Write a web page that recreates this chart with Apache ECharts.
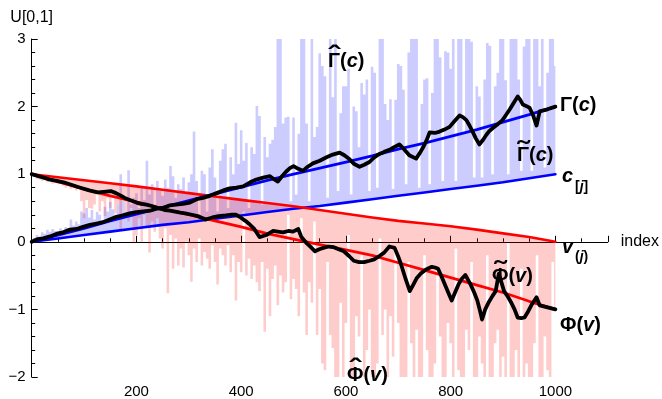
<!DOCTYPE html>
<html>
<head>
<meta charset="utf-8">
<script src="https://cdn.jsdelivr.net/npm/echarts@6/dist/echarts.min.js"></script>
<style>
  html, body { margin: 0; padding: 0; background: #ffffff; }
  #chart { width: 662px; height: 399px; }
</style>
</head>
<body>
<div id="chart"></div>
<script>
// Order statistics of U[0,1] samples and the derived estimators, plotted against index.

// Indices at which the smooth curves are listed
const curveIdx = [0, 50, 100, 150, 200, 250, 300, 350, 400, 450, 500,
                  550, 600, 650, 700, 750, 800, 850, 900, 950, 1000];

// c_[j]: ascending order statistics
const cSorted = [0, 0.05, 0.10, 0.15, 0.20, 0.25, 0.29, 0.34, 0.39, 0.44, 0.49,
                 0.53, 0.58, 0.63, 0.68, 0.73, 0.78, 0.83, 0.88, 0.94, 1.0];
// v_(j): descending order statistics
const vSorted = [1.0, 0.955, 0.91, 0.865, 0.82, 0.77, 0.72, 0.67, 0.62, 0.575, 0.525,
                 0.47, 0.415, 0.36, 0.31, 0.27, 0.23, 0.18, 0.125, 0.07, 0.0];
// Γ(c) and Φ(v)
const gammaC = [0, 0.10, 0.20, 0.31, 0.41, 0.51, 0.61, 0.71, 0.81, 0.91, 1.00,
                1.09, 1.18, 1.27, 1.37, 1.46, 1.56, 1.66, 1.77, 1.88, 2.0];
const phiV = [1.0, 0.89, 0.78, 0.68, 0.59, 0.49, 0.40, 0.31, 0.22, 0.12, 0.04,
              -0.04, -0.12, -0.20, -0.31, -0.42, -0.53, -0.64, -0.75, -0.88, -1.0];

// Noisy estimators Γ̂(c) and Φ̂(v), one value every STEP indices (0 … 1000)
const STEP = 5;
const gammaHat = [
  0.02, 0.06, 0.10, 0.08, 0.14, 0.12, 0.18, 0.15, 0.19, 0.16,
  0.14, 0.20, 0.17, 0.22, 0.18, 0.33, 0.24, 0.30, 0.26, 0.45,
  0.42, 0.50, 0.36, 0.47, 0.33, 0.44, 0.40, 0.30, 0.52, 0.45,
  0.59, 0.48, 0.40, 0.55, 1.00, 0.60, 0.45, 1.06, 0.55, 0.65,
  0.72, 0.50, 0.80, 0.62, 1.20, 0.70, 0.85, 0.55, 0.90, 0.75,
  0.68, 0.92, 0.80, 1.12, 0.97, 0.65, 0.85, 0.78, 0.95, 0.72,
  0.88, 1.00, 1.63, 0.90, 0.40, 1.05, 1.00, 0.45, 1.10, 1.37,
  0.95, 0.45, 1.20, 1.37, 1.45, 0.50, 1.25, 1.00, 1.76, 1.15,
  1.65, 1.20, 1.46, 0.50, 1.40, 1.30, 2.01, 1.86, 0.55, 1.55,
  1.25, 1.45, 1.51, 1.70, 3.20, 3.20, 1.75, 1.84, 1.85, 0.60,
  1.84, 0.70, 1.60, 3.20, 3.20, 1.75, 0.60, 3.20, 1.55, 1.70,
  2.79, 2.60, 2.45, 0.65, 3.20, 2.14, 3.20, 0.75, 1.90, 2.30,
  2.30, 2.56, 0.70, 2.00, 1.93, 1.40, 2.35, 2.18, 2.40, 0.75,
  2.59, 2.50, 0.80, 3.20, 3.20, 2.04, 1.80, 2.11, 0.78, 2.10,
  2.63, 2.60, 2.25, 0.85, 2.80, 3.20, 3.20, 3.20, 0.80, 2.04,
  2.40, 2.42, 0.85, 2.20, 3.20, 3.20, 2.73, 0.90, 2.82, 2.80,
  2.56, 3.20, 0.90, 3.20, 3.20, 1.60, 3.20, 3.20, 2.96, 0.95,
  2.30, 2.15, 0.95, 2.40, 2.94, 2.90, 1.00, 2.30, 2.50, 3.20,
  3.20, 2.39, 1.00, 3.20, 3.20, 3.20, 2.40, 1.05, 2.89, 3.20,
  3.20, 1.05, 3.20, 3.20, 2.30, 3.20, 1.10, 2.50, 3.20, 3.20,
  2.60
];
const phiHat = [
  0.98, 0.96, 0.93, 0.92, 0.90, 0.93, 0.88, 0.90, 0.86, 0.88,
  0.85, 0.87, 0.83, 0.80, 0.84, 0.78, 0.82, 0.76, 0.80, 0.60,
  0.35, 0.62, 0.50, 0.49, 0.55, 0.70, 0.45, 0.60, 0.38, 0.65,
  0.50, 0.68, 0.42, 0.55, 0.16, 0.60, 0.45, 0.30, 0.50, -0.02,
  0.10, 0.35, 0.00, 0.40, 0.20, -0.16, 0.30, 0.15, 0.35, 0.05,
  -0.10, 0.20, -0.76, 0.10, -0.40, 0.05, -0.35, -0.10, -0.38, 0.00,
  -0.20, -0.59, -0.10, -0.30, 0.05, -0.35, -0.15, -0.25, -0.40, -0.05,
  -0.30, -0.63, -0.10, -0.20, -0.35, -0.05, -0.45, -0.20, -0.87, -0.30,
  -0.45, 0.45, -0.50, -0.25, -0.55, -0.35, -0.60, -0.73, -0.30, -1.33,
  -0.40, -1.10, -0.55, -0.35, -0.94, -0.50, -0.75, -0.60, 0.40, -0.85,
  -0.55, -0.70, -1.10, 0.35, -0.75, -1.38, -0.60, -0.90, 0.30, -1.38,
  -0.70, -1.80, -1.90, -0.30, -1.38, -1.57, -2.20, -2.20, -0.90, -2.20,
  -1.20, 0.10, -2.20, -2.20, -1.10, -1.40, -0.20, -2.20, -1.60, -1.00,
  -2.20, -2.20, -1.80, 0.05, -1.38, -1.00, -2.20, -1.10, -1.70, -0.10,
  -1.20, -2.00, -2.20, -2.20, -0.30, -1.50, -2.20, -1.30, -2.20, -2.20,
  -0.20, -1.60, -2.20, -2.20, -1.80, -0.40, -1.40, -2.20, -2.20, -1.20,
  -1.50, -2.20, -0.10, -1.90, -2.20, -2.20, -1.30, -1.60, -0.30, -2.20,
  -2.20, -1.40, -1.80, -2.20, -0.20, -2.20, -2.20, -1.50, -1.30, -2.20,
  -1.70, -2.20, 0.00, -2.20, -2.20, -1.60, -2.20, -0.40, -2.20, -1.80,
  -2.20, -2.20, -1.50, -0.20, -2.20, -2.20, -1.40, -1.90, -2.20, -0.30,
  -1.00
];

// Smoothed estimators Γ̃(c) and Φ̃(v) as [index, value]
const gammaTilde = [
  [0, 0], [12, 0.04], [22, 0.05], [35, 0.08], [48, 0.12], [60, 0.14], [73, 0.18],
  [86, 0.19], [98, 0.22], [111, 0.25], [124, 0.27], [136, 0.29], [149, 0.33],
  [162, 0.37], [174, 0.39], [187, 0.42], [200, 0.44], [213, 0.45], [226, 0.46],
  [238, 0.49], [251, 0.50], [264, 0.54], [276, 0.55], [289, 0.56], [302, 0.58],
  [315, 0.63], [327, 0.65], [340, 0.68], [353, 0.72], [366, 0.76], [378, 0.79],
  [391, 0.80], [404, 0.82], [417, 0.88], [429, 0.92], [442, 0.95], [455, 0.97],
  [462, 0.93], [470, 0.89], [478, 0.97], [486, 1.04], [493, 1.09], [500, 1.12],
  [509, 1.08], [518, 1.05], [527, 1.11], [537, 1.16], [550, 1.20], [563, 1.25],
  [575, 1.29], [588, 1.32], [597, 1.28], [607, 1.22], [616, 1.15], [626, 1.11],
  [635, 1.14], [645, 1.18], [654, 1.25], [664, 1.30], [673, 1.33], [683, 1.36],
  [692, 1.40], [702, 1.44], [711, 1.37], [721, 1.28], [734, 1.23], [740, 1.30],
  [747, 1.39], [754, 1.50], [760, 1.62], [770, 1.61], [779, 1.63], [788, 1.66],
  [798, 1.70], [808, 1.79], [817, 1.87], [824, 1.84], [830, 1.80], [836, 1.72],
  [842, 1.63], [848, 1.53], [855, 1.44], [862, 1.51], [868, 1.58], [874, 1.64],
  [880, 1.68], [890, 1.74], [899, 1.80], [906, 1.88], [913, 1.96], [920, 2.05],
  [928, 2.15], [933, 2.10], [938, 2.03], [944, 2.01], [951, 1.98], [958, 1.86],
  [964, 1.72], [970, 1.93], [985, 1.96], [1000, 2.0]
];
const phiTilde = [
  [0, 1.0], [18, 0.96], [35, 0.92], [48, 0.90], [61, 0.88], [77, 0.84], [93, 0.80],
  [110, 0.76], [126, 0.73], [138, 0.74], [151, 0.75], [161, 0.72], [171, 0.68],
  [180, 0.64], [190, 0.61], [200, 0.58], [209, 0.56], [219, 0.55], [229, 0.53],
  [241, 0.50], [254, 0.47], [264, 0.46], [274, 0.445], [284, 0.43], [293, 0.42],
  [306, 0.40], [319, 0.375], [332, 0.33], [345, 0.36], [357, 0.38], [370, 0.39],
  [380, 0.40], [390, 0.40], [399, 0.36], [408, 0.31], [416, 0.26], [425, 0.19],
  [435, 0.07], [448, 0.10], [461, 0.16], [470, 0.15], [480, 0.14], [490, 0.16],
  [499, 0.15], [509, 0.19], [515, 0.07], [525, -0.02], [533, -0.08], [541, -0.14],
  [549, -0.11], [557, -0.09], [567, -0.07], [577, -0.08], [586, -0.11], [596, -0.14],
  [606, -0.21], [615, -0.28], [625, -0.30], [635, -0.30], [645, -0.28], [654, -0.26],
  [664, -0.21], [673, -0.16], [683, -0.07], [693, -0.09], [700, -0.22], [706, -0.35],
  [714, -0.55], [722, -0.73], [729, -0.63], [735, -0.54], [743, -0.47], [751, -0.42],
  [758, -0.39], [764, -0.37], [770, -0.38], [776, -0.40], [783, -0.52], [789, -0.63],
  [796, -0.76], [802, -0.87], [809, -0.74], [815, -0.63], [821, -0.55], [828, -0.49],
  [833, -0.56], [838, -0.63], [845, -0.75], [851, -0.87], [856, -1.02], [860, -1.15],
  [866, -1.00], [873, -0.89], [880, -0.80], [886, -0.73], [889, -0.60], [892, -0.47],
  [897, -0.60], [902, -0.73], [909, -0.81], [915, -0.89], [922, -1.00], [928, -1.12],
  [935, -1.13], [941, -1.12], [948, -1.03], [954, -0.94], [959, -0.88], [964, -0.82],
  [970, -0.94], [985, -0.97], [1000, -1.0]
];

const FONT = '"Liberation Sans", Arial, sans-serif';
const BLUE = '#0000ff';
const RED = '#ff0000';

function pairs(idx, vals) { return idx.map((x, i) => [x, vals[i]]); }

// Filled band between a noisy estimator (drawn as short steps) and a reference curve
function band(name, tops, baseVals, fill) {
  return {
    type: 'custom',
    name: name,
    clip: true,
    z: 1,
    silent: true,
    data: tops.map((v, i) => [i * STEP, v]),
    encode: { x: 0, y: 1 },
    renderItem: function (params, api) {
      if (params.dataIndex !== 0) return null;
      const pts = [];
      tops.forEach(function (v, i) {
        const x0 = Math.max(0, i * STEP - STEP / 2);
        const x1 = Math.min(1000, i * STEP + STEP / 2);
        pts.push(api.coord([x0, v]), api.coord([x1, v]));
      });
      for (let j = curveIdx.length - 1; j >= 0; j--) {
        pts.push(api.coord([curveIdx[j], baseVals[j]]));
      }
      return { type: 'polygon', shape: { points: pts }, style: { fill: fill } };
    }
  };
}

function curve(name, data, color, width, z) {
  return {
    type: 'line', name: name, data: data, showSymbol: false, symbol: 'none',
    lineStyle: { color: color, width: width, join: 'round', cap: 'round' },
    z: z, silent: true
  };
}

// Text labels placed next to each curve
const bold = { fontFamily: FONT, fontWeight: 'bold', fontSize: 20, fill: '#000' };
const boldItalic = Object.assign({}, bold, { fontStyle: 'italic' });
const subUp = Object.assign({}, bold, { fontSize: 14 });
const subIt = Object.assign({}, subUp, { fontStyle: 'italic' });
const richStyles = { g: bold, p: bold, i: boldItalic, s: subUp, j: subIt };

const HAT = '\u02C6';
const TILDE = '\u02DC';
// [x, y, text, accent, accent x offset, accent y]
const labelSpecs = [
  [328, 61, '{g|\u0393}{p|(}{i|c}{p|)}', HAT, 6, 57],
  [560, 105, '{g|\u0393}{p|(}{i|c}{p|)}', null],
  [517, 155, '{g|\u0393}{p|(}{i|c}{p|)}', TILDE, 6, 152],
  [562, 176, '{i|c}', null],
  [575, 187, '{s|[}{j|j}{s|]}', null],
  [562, 247, '{i|v}', null],
  [575, 257, '{s|(}{j|j}{s|)}', null],
  [492, 276, '{g|\u03A6}{p|(}{i|v}{p|)}', TILDE, 8, 272],
  [560, 325, '{g|\u03A6}{p|(}{i|v}{p|)}', null],
  [347, 375, '{g|\u03A6}{p|(}{i|v}{p|)}', HAT, 8, 370]
];

const graphics = [];
labelSpecs.forEach(function (s) {
  graphics.push({
    type: 'text', x: s[0], y: s[1], z: 100, silent: true,
    style: { text: s[2], rich: richStyles, align: 'left', verticalAlign: 'middle', fill: '#000' }
  });
  if (s[3]) {
    graphics.push({
      type: 'text', x: s[0] + s[4], y: s[5], z: 100, silent: true,
      scaleX: 1.35, originX: 0, originY: 0,
      style: { text: s[3], font: 'bold 26px ' + FONT, align: 'center', verticalAlign: 'middle', fill: '#000' }
    });
  }
});

const chart = echarts.init(document.getElementById('chart'), null, { renderer: 'canvas' });

chart.setOption({
  animation: false,
  backgroundColor: '#ffffff',
  grid: { left: 31.7, top: 39, width: 576.7, height: 354, containLabel: false },
  xAxis: [
    {
      type: 'value', min: 0, max: 1100, interval: 50,
      axisLine: { show: true, onZero: true, lineStyle: { color: '#000', width: 1 } },
      axisTick: { show: true, inside: true, length: 3.5, lineStyle: { color: '#000', width: 1 } },
      axisLabel: {
        interval: 0, margin: 7, color: '#000', fontSize: 15, fontFamily: FONT,
        formatter: function (v) { return (v > 0 && v <= 1000 && v % 200 === 0) ? String(v) : ''; }
      },
      splitLine: { show: false },
      name: 'index', nameLocation: 'end', nameGap: 13,
      nameTextStyle: { color: '#000', fontSize: 16, fontFamily: FONT }
    },
    {
      type: 'value', min: 0, max: 1100, interval: 200, position: 'bottom',
      axisLine: { show: false, onZero: true, onZeroAxisIndex: 0 },
      axisTick: { show: true, inside: true, length: 6, lineStyle: { color: '#000', width: 1 } },
      axisLabel: { show: false },
      splitLine: { show: false }
    }
  ],
  yAxis: {
    type: 'value', min: -2, max: 3, interval: 1,
    axisLine: { show: true, onZero: false, lineStyle: { color: '#000', width: 1 } },
    axisTick: { show: true, inside: true, length: 6, lineStyle: { color: '#000', width: 1 } },
    minorTick: { show: true, splitNumber: 5, length: 3.5, lineStyle: { color: '#000', width: 1 } },
    axisLabel: {
      margin: 6, color: '#000', fontSize: 15, fontFamily: FONT,
      formatter: function (v) { return String(v).replace('-', '\u2212'); }
    },
    splitLine: { show: false },
    minorSplitLine: { show: false },
    name: 'U[0,1]', nameLocation: 'end', nameGap: 13,
    nameTextStyle: { color: '#000', fontSize: 16, fontFamily: FONT, align: 'center' }
  },
  series: [
    band('Γ̂(c)', gammaHat, cSorted, 'rgba(0,0,255,0.2)'),
    band('Φ̂(v)', phiHat, vSorted, 'rgba(255,0,0,0.2)'),
    curve('c[j]', pairs(curveIdx, cSorted), BLUE, 2.6, 3),
    curve('v(j)', pairs(curveIdx, vSorted), RED, 2.6, 3),
    curve('Γ(c)', pairs(curveIdx, gammaC), BLUE, 2.8, 3),
    curve('Φ(v)', pairs(curveIdx, phiV), RED, 2.8, 3),
    curve('Γ̃(c)', gammaTilde, '#000000', 3.8, 4),
    curve('Φ̃(v)', phiTilde, '#000000', 3.8, 4)
  ],
  graphic: graphics
});
</script>
</body>
</html>
